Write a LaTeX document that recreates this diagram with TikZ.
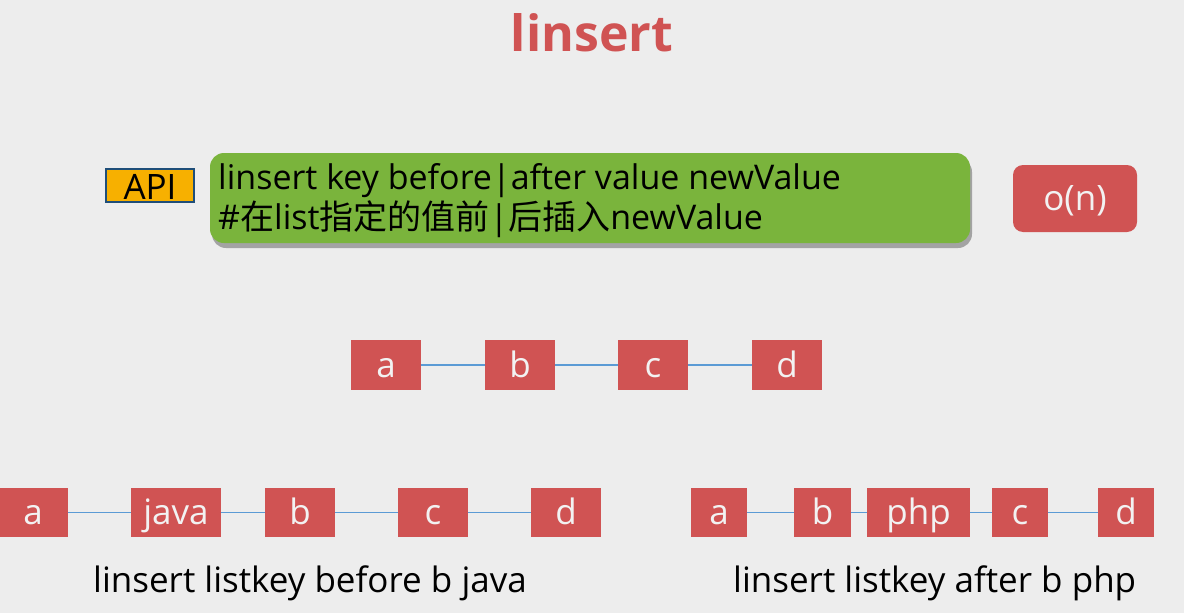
\documentclass[tikz,border=0pt]{standalone}
\usepackage{fontspec}
\setmainfont{Open Sans}
\newfontfamily\cjk{Noto Sans CJK SC}
\usetikzlibrary{shadows}
\definecolor{bg}{HTML}{EDEDED}
\definecolor{boxred}{HTML}{D05353}
\definecolor{boxgreen}{HTML}{7AB43C}
\definecolor{apiorange}{HTML}{F7B000}
\definecolor{apiblue}{HTML}{1F4E79}
\definecolor{linkblue}{HTML}{5B9BD5}
\definecolor{boxtext}{HTML}{F2F2F2}
\tikzset{
  elem/.style={fill=boxred, draw=none, inner sep=0pt, minimum height=49pt, text=boxtext, text height=23pt, text depth=0pt, font=\fontsize{35}{35}\selectfont},
  link/.style={draw=linkblue, line width=1.6pt},
  caption/.style={anchor=base west, inner sep=0pt, font=\fontsize{35}{35}\selectfont},
  cmdline/.style={anchor=base west, inner sep=0pt, font=\fontsize{34}{34}\selectfont},
}
\begin{document}
\begin{tikzpicture}[x=1pt,y=-1pt]
\fill[bg] (0,0) rectangle (1184,613);
\useasboundingbox (0,0) rectangle (1184,613);
% title
\node[text=boxred, font=\fontsize{50}{50}\selectfont\bfseries] (title) at (592,33) {linsert};
% API row
\node[fill=apiorange, draw=apiblue, line width=2.4pt, minimum width=88pt, minimum height=33pt, inner sep=0pt, text height=28pt, text depth=0pt, font=\fontsize{35}{35}\selectfont] (api) at (150,185.5) {API};
\node[fill=boxgreen, rounded corners=14pt, minimum width=760pt, minimum height=90pt, drop shadow={shadow xshift=2pt, shadow yshift=-5pt, opacity=0.6, fill=black!55}] (cmd) at (590,198) {};
\node[cmdline] (cmd1) at (218,189) {linsert key before|after value newValue};
\node[cmdline] (cmd2) at (218,229) {\#{\cjk 在}list{\cjk 指定的值前}|{\cjk 后插入}newValue};
\node[fill=boxred, rounded corners=10pt, minimum width=124pt, minimum height=67pt, inner sep=0pt, text=boxtext, text height=23pt, text depth=0pt, font=\fontsize{35}{35}\selectfont] (on) at (1075,198.5) {o(n)};
% middle list
\node[elem, minimum width=70pt, minimum height=50pt, text height=24pt] (ma) at (386,365) {a};
\node[elem, minimum width=70pt, minimum height=50pt, text height=24pt] (mb) at (520,365) {b};
\node[elem, minimum width=70pt, minimum height=50pt, text height=24pt] (mc) at (653,365) {c};
\node[elem, minimum width=70pt, minimum height=50pt, text height=24pt] (md) at (787,365) {d};
\draw[link] (ma) -- (mb);
\draw[link] (mb) -- (mc);
\draw[link] (mc) -- (md);
% bottom left list
\node[elem, minimum width=70pt] (la) at (33,512.5) {a};
\node[elem, minimum width=90pt] (ljava) at (176,512.5) {java};
\node[elem, minimum width=70pt] (lb) at (300,512.5) {b};
\node[elem, minimum width=70pt] (lc) at (433,512.5) {c};
\node[elem, minimum width=70pt] (ld) at (566,512.5) {d};
\draw[link] (la) -- (ljava);
\draw[link] (ljava) -- (lb);
\draw[link] (lb) -- (lc);
\draw[link] (lc) -- (ld);
% bottom right list
\node[elem, minimum width=56pt] (ra) at (719,512.5) {a};
\node[elem, minimum width=57pt] (rb) at (822.5,512.5) {b};
\node[elem, minimum width=103pt] (rphp) at (918.5,512.5) {php};
\node[elem, minimum width=56pt] (rc) at (1020,512.5) {c};
\node[elem, minimum width=56pt] (rd) at (1126,512.5) {d};
\draw[link] (ra) -- (rb);
\draw[link] (rb) -- (rphp);
\draw[link] (rphp) -- (rc);
\draw[link] (rc) -- (rd);
% captions
\node[caption] (capl) at (93,592) {linsert listkey before b java};
\node[caption] (capr) at (733,592) {linsert listkey after b php};
\end{tikzpicture}
\end{document}
